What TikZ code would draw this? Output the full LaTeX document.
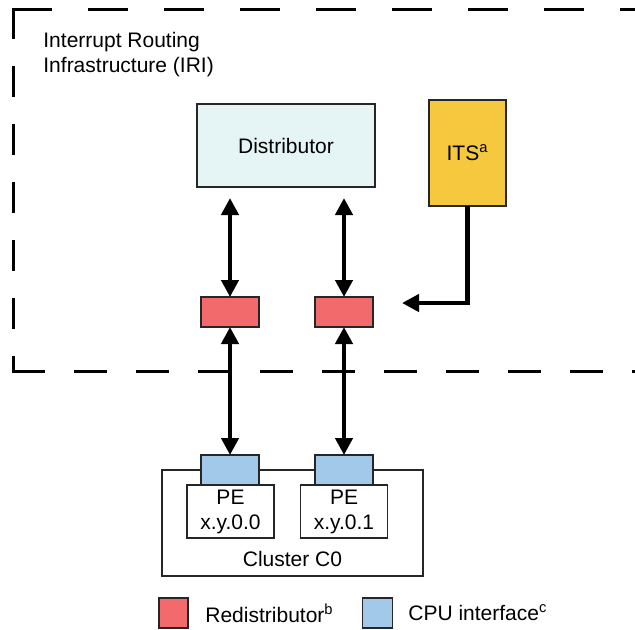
\documentclass[tikz,border=0pt]{standalone}
\usepackage{fontspec}
\setmainfont{Liberation Sans}
\usetikzlibrary{arrows.meta,calc}

\begin{document}
\begin{tikzpicture}[x=0.5pt,y=-0.5pt,font=\fontsize{10.5}{12.5}\selectfont]
            \useasboundingbox (0,0) rectangle (635,629);
            \definecolor{distfill}{HTML}{E5F5F5};
            \definecolor{itsfill}{HTML}{F5C83D};
            \definecolor{redistfill}{HTML}{F26A6C};
            \definecolor{cpufill}{HTML}{A2C8EA};

            \tikzset{Box/.style={draw=black!85,line width=0.6pt,inner sep=0pt,outer sep=0pt,align=center}};
            \tikzset{Link/.style={line width=2.2pt,{Triangle[width=8.5pt,length=8.5pt]}-{Triangle[width=8.5pt,length=8.5pt]}}};
            \tikzset{IRIEdge/.style={line width=1.5pt,line cap=rect}};

            % IRI border (cut off on the right)
            \draw[IRIEdge,dash pattern=on 18.5pt off 19.5pt] (13,9) -- (660,9);
            \draw[IRIEdge,dash pattern=on 14pt off 15pt] (13,9) -- (13,371);
            \draw[IRIEdge,dash pattern=on 15pt off 16pt] (13,371) -- (660,371);
            \node[inner sep=0pt,anchor=north west,align=left] (iri) at (43,32){Interrupt Routing\\Infrastructure (IRI)};

            \node[Box,fill=distfill,minimum width=89pt,minimum height=41.5pt] (dist) at (286,145.5){Distributor};
            \node[Box,fill=itsfill,minimum width=38.5pt,minimum height=53pt] (its) at (467.5,153){ITS\textsuperscript{a}};

            \tikzset{Box/.append style={fill=redistfill,minimum width=29pt,minimum height=15pt}};
            \node[Box] (rd_0) at (230,312){};
            \node[Box] (rd_1) at (344,312){};

            % cluster with its PEs
            \node[Box,fill=white,minimum width=130.5pt,minimum height=53pt] (cluster) at (292.5,523){};
            \node[anchor=base] (clname) at (292.5,566){Cluster C0};
            \node[Box,fill=white,minimum width=43.5pt,minimum height=26.5pt] (pe_0) at (230.5,511.5){PE\\x.y.0.0};
            \node[Box,fill=white,minimum width=43.5pt,minimum height=26.5pt] (pe_1) at (344,511.5){PE\\x.y.0.1};

            \tikzset{Box/.append style={fill=cpufill}};
            \node[Box] (cpu_0) at (230,470){};
            \node[Box] (cpu_1) at (344,470){};

            \coordinate (itsin) at (402,303);
            \draw[Link,shorten <=5.5pt] (dist.south -| rd_0) -- (rd_0);
            \draw[Link,shorten <=5.5pt] (dist.south -| rd_1) -- (rd_1);
            \draw[Link] (rd_0) -- (cpu_0);
            \draw[Link] (rd_1) -- (cpu_1);
            \draw[line width=2.2pt,-{Triangle[width=8.5pt,length=8.5pt]}] (its.south) |- (itsin);

            % legend
            \node[Box,fill=redistfill,minimum width=14.5pt,minimum height=15pt] (key_rd) at (173.5,613){};
            \node[anchor=west,inner sep=0pt] (lbl_rd) at (205,613){Redistributor\textsuperscript{b}};
            \node[Box,fill=cpufill,minimum width=15pt,minimum height=15pt] (key_cpu) at (377.5,613){};
            \node[anchor=west,inner sep=0pt] (lbl_cpu) at (408,613){CPU interface\textsuperscript{c}};
          \end{tikzpicture}
\end{document}
